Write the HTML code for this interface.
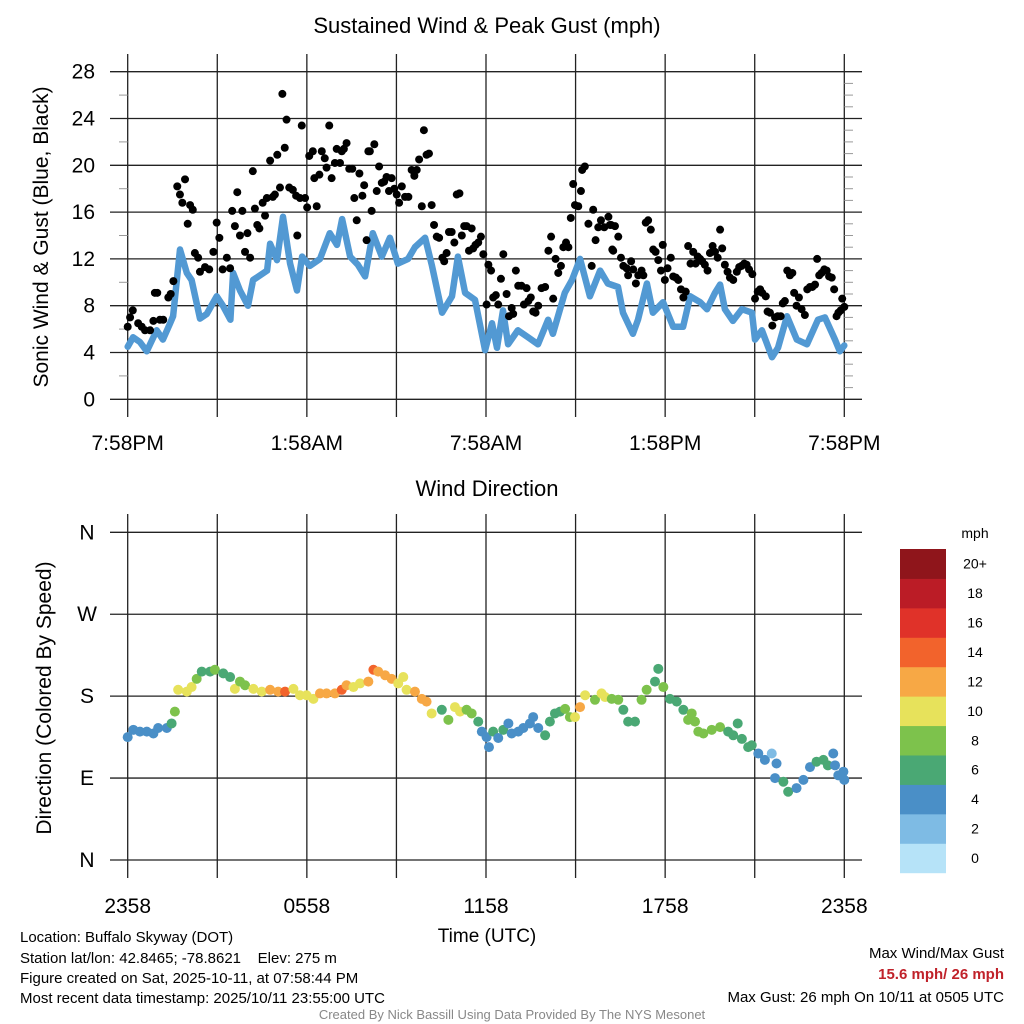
<!DOCTYPE html>
<html><head><meta charset="utf-8"><style>
html,body{margin:0;padding:0;background:#fff;}
svg{display:block;font-family:"Liberation Sans",Arial,sans-serif;}
</style></head><body>
<svg id="chart" width="1024" height="1024" viewBox="0 0 1024 1024" xmlns="http://www.w3.org/2000/svg">
<rect width="1024" height="1024" fill="#fff"/>
<g id="topPanel"></g>
<g id="botPanel"></g>
<g id="cbar"></g>
<text x="487" y="33" font-size="22" text-anchor="middle">Sustained Wind &amp; Peak Gust (mph)</text>
<text transform="translate(48,237) rotate(-90)" font-size="21" text-anchor="middle">Sonic Wind &amp; Gust (Blue, Black)</text>
<text x="487" y="496" font-size="22" text-anchor="middle">Wind Direction</text>
<text transform="translate(51,698) rotate(-90)" font-size="21" text-anchor="middle">Direction (Colored By Speed)</text>
<text x="487" y="942" font-size="19" text-anchor="middle">Time (UTC)</text>
<text x="975" y="538" font-size="14" text-anchor="middle">mph</text>
<g font-size="15">
<text x="20" y="942">Location: Buffalo Skyway (DOT)</text>
<text x="20" y="963">Station lat/lon: 42.8465; -78.8621&#160;&#160;&#160;&#160;Elev: 275 m</text>
<text x="20" y="983">Figure created on Sat, 2025-10-11, at 07:58:44 PM</text>
<text x="20" y="1003">Most recent data timestamp: 2025/10/11 23:55:00 UTC</text>
</g>
<text x="512" y="1019" font-size="13" fill="#888" text-anchor="middle">Created By Nick Bassill Using Data Provided By The NYS Mesonet</text>
<g font-size="15" text-anchor="end">
<text x="1004" y="958">Max Wind/Max Gust</text>
<text x="1004" y="979" fill="#c0222a" font-weight="bold">15.6 mph/ 26 mph</text>
<text x="1004" y="1002">Max Gust: 26 mph On 10/11 at 0505 UTC</text>
</g>
</svg>
<script>
// ---- data ----
const windHours=[0,0.18,0.41,0.64,0.97,1.18,1.42,1.52,1.75,1.98,2.14,2.42,2.65,2.98,3.19,3.44,3.53,3.76,4.03,4.20,4.67,4.77,5.00,5.20,5.44,5.67,5.84,6.10,6.44,6.77,7.01,7.18,7.45,7.71,7.95,8.21,8.51,8.78,9.05,9.39,9.62,9.96,10.19,10.53,10.86,11.06,11.30,11.63,11.97,12.20,12.37,12.57,12.74,13.07,13.41,13.74,14.08,14.24,14.64,14.88,15.15,15.48,15.82,16.08,16.42,16.59,16.92,17.09,17.39,17.59,17.93,18.27,18.60,18.84,19.17,19.40,19.67,19.84,20.00,20.27,20.57,20.91,21.01,21.24,21.58,21.78,22.08,22.41,22.75,23.12,23.35,23.69,23.85,24.0];
const windSpeed=[4.5,5.3,4.9,4.1,5.9,5.1,6.5,7.1,12.8,10.8,10.2,6.9,7.3,8.8,8.0,6.8,10.8,9.3,8.0,10.2,11.0,13.3,11.9,15.6,11.6,9.3,12.2,11.4,12.0,14.2,13.2,15.4,12.2,11.5,10.5,14.2,12.2,13.8,11.6,12.0,13.0,13.8,11.4,7.4,8.8,12.2,9.1,8.5,4.2,6.5,4.4,7.6,4.7,5.9,5.3,4.7,6.8,5.6,9.1,10.2,12.0,8.8,11.0,9.9,9.6,7.4,5.6,6.8,9.9,7.4,8.3,6.2,6.2,8.8,8.3,7.7,9.1,9.8,7.7,6.7,7.7,7.4,5.1,5.9,3.6,4.4,7.1,5.1,4.7,6.8,7.0,5.1,4.1,4.6];
const gustHours=[0.00,0.08,0.17,0.35,0.47,0.58,0.75,0.86,0.91,0.99,1.08,1.19,1.36,1.44,1.53,1.66,1.75,1.83,1.92,2.01,2.09,2.18,2.25,2.36,2.42,2.59,2.73,2.87,2.98,3.07,3.18,3.32,3.43,3.50,3.59,3.67,3.76,3.84,3.93,4.01,4.10,4.19,4.26,4.34,4.41,4.52,4.60,4.66,4.77,4.86,4.93,5.01,5.10,5.18,5.26,5.32,5.41,5.53,5.64,5.77,5.68,5.83,5.94,6.01,6.08,6.20,6.25,6.33,6.42,6.50,6.60,6.66,6.75,6.83,6.94,7.00,7.11,7.17,7.24,7.33,7.42,7.52,7.59,7.67,7.76,7.86,7.92,8.00,8.06,8.11,8.26,8.17,8.42,8.34,8.51,8.59,8.67,8.75,8.84,8.93,9.01,9.09,9.18,9.29,9.40,9.51,9.60,9.68,9.76,9.85,9.92,10.01,10.09,10.18,10.26,10.35,10.43,10.54,10.60,10.68,10.76,10.85,10.94,11.02,11.11,11.19,11.27,11.35,11.43,11.52,11.57,11.65,11.74,11.83,11.91,12.02,12.08,12.17,12.24,12.33,12.41,12.50,12.58,12.69,12.77,12.86,12.91,13.00,13.08,13.19,13.27,13.36,13.42,13.50,13.58,13.66,13.75,13.86,13.98,14.09,14.18,14.25,14.33,14.42,14.51,14.59,14.68,14.76,14.84,14.92,14.98,15.09,15.18,15.22,15.31,15.43,15.54,15.59,15.67,15.76,15.85,15.96,16.10,16.19,16.23,16.15,16.32,16.43,16.26,16.52,16.60,16.71,16.76,16.86,16.93,17.02,17.10,17.21,17.27,17.35,17.43,17.52,17.60,17.68,17.77,17.86,17.92,17.99,18.08,18.19,18.27,18.36,18.44,18.53,18.61,18.69,18.77,18.85,18.94,19.02,19.09,19.17,19.24,19.33,19.42,19.50,19.59,19.67,19.76,19.84,19.91,20.00,20.09,20.17,20.28,20.40,20.48,20.56,20.65,20.73,20.81,20.92,21.01,21.10,21.18,21.25,21.37,21.43,21.51,21.59,21.68,21.77,21.87,21.94,22.01,22.09,22.18,22.26,22.32,22.40,22.48,22.57,22.68,22.76,22.85,22.93,23.02,23.09,23.16,23.24,23.33,23.41,23.49,23.58,23.66,23.74,23.80,23.88,23.93,24.00];
const gustSpeed=[6.2,7.0,7.6,6.5,6.2,5.9,5.9,6.7,9.1,9.1,6.8,6.8,8.7,9.0,10.1,18.2,17.5,16.8,18.8,15.0,16.6,16.2,12.5,12.1,10.9,11.3,11.1,12.6,15.1,13.8,11.1,12.1,11.2,16.1,14.8,17.7,14.0,16.1,12.6,14.2,12.1,19.5,16.3,14.9,14.6,16.8,15.7,17.2,20.4,17.3,17.5,20.9,18.1,26.1,21.5,23.9,18.1,17.9,17.4,17.2,14.0,23.4,17.2,16.4,20.8,21.2,18.9,16.5,19.2,21.2,20.6,19.8,23.4,18.9,20.2,21.4,20.2,21.2,21.4,21.9,19.7,19.7,17.2,15.3,19.3,17.4,18.3,13.6,21.2,21.2,21.8,16.1,19.9,17.8,18.5,18.6,19.0,17.8,18.9,18.0,17.5,16.8,18.2,17.3,17.3,19.6,19.1,19.6,20.5,16.5,23.0,20.9,21.0,16.6,14.9,13.9,13.8,12.1,11.8,12.5,14.3,14.3,13.4,17.5,17.6,14.0,14.8,14.8,12.7,14.6,12.9,13.2,13.4,13.9,12.4,8.1,11.5,11.0,8.7,8.9,8.1,10.3,12.4,9.0,7.1,7.8,7.3,11.0,9.7,9.7,8.1,9.5,8.4,8.7,7.5,7.4,8.0,9.5,9.6,12.7,13.9,8.6,12.0,10.8,11.4,13.0,13.4,13.0,15.5,18.4,16.6,16.5,17.8,19.6,19.9,15.0,11.4,16.2,13.6,14.7,15.3,14.7,15.6,14.9,12.8,14.9,14.8,13.9,12.7,12.1,11.4,11.2,10.6,11.8,11.1,9.9,10.6,11.0,10.6,15.1,15.3,14.5,12.8,12.6,11.9,11.0,13.2,10.2,11.2,12.1,10.5,10.4,10.2,9.4,8.7,9.2,13.1,11.6,12.6,11.6,12.2,12.0,11.8,11.5,11.0,12.5,13.1,12.6,12.1,14.5,12.9,11.5,10.9,10.4,10.2,10.9,11.3,11.4,11.6,11.5,11.1,10.7,8.6,9.2,9.4,9.1,8.8,7.5,7.4,6.3,7.0,7.1,7.1,8.2,8.4,11.0,10.6,10.8,9.1,8.0,8.7,7.7,7.2,9.4,9.6,9.6,9.8,12.0,10.6,10.8,11.1,11.0,10.5,10.4,9.4,7.1,7.4,7.6,8.6,7.9];
const dirHours=[0.00,0.19,0.41,0.64,0.86,1.02,1.31,1.47,1.58,1.69,1.98,2.14,2.31,2.48,2.76,2.92,3.20,3.43,3.59,3.76,3.93,4.21,4.49,4.77,5.04,5.27,5.55,5.77,5.99,6.22,6.44,6.66,6.94,7.17,7.33,7.56,7.78,8.06,8.23,8.39,8.62,8.84,9.06,9.23,9.34,9.62,9.85,10.01,10.18,10.52,10.74,10.96,11.13,11.35,11.52,11.74,11.86,12.02,12.10,12.24,12.41,12.58,12.75,12.86,13.08,13.25,13.47,13.58,13.75,13.98,14.14,14.31,14.48,14.65,14.81,14.98,15.15,15.32,15.65,15.87,15.99,16.21,16.43,16.60,16.76,16.99,17.21,17.38,17.66,17.77,17.94,18.16,18.39,18.61,18.77,18.89,19.00,19.11,19.28,19.56,19.84,20.11,20.28,20.43,20.57,20.78,20.90,21.12,21.34,21.57,21.68,21.73,21.96,22.12,22.40,22.63,22.85,23.07,23.30,23.45,23.63,23.69,23.80,23.97,24.00];
const dirDeg=[135,143,141,141,139,145,145,150,163,187,185,190,199,207,207,209,205,201,188,196,192,188,185,187,185,185,188,181,181,177,183,183,183,187,192,190,194,196,209,207,203,199,194,201,187,185,177,174,161,165,154,168,163,165,161,152,141,135,124,141,134,143,150,139,141,145,150,157,145,137,152,161,163,166,157,157,168,181,176,183,179,177,176,165,152,152,176,187,196,210,190,177,174,165,154,161,152,141,139,143,146,141,137,150,133,124,126,117,110,117,90,106,86,75,79,88,102,108,110,104,117,104,93,97,88];
const yTicksTop=[0,4,8,12,16,20,24,28];
const xTickHoursTop=[0,6,12,18,24];
const xTickLabelsTop=["7:58PM","1:58AM","7:58AM","1:58PM","7:58PM"];
const dirTickDeg=[0,90,180,270,360];
const dirTickLabels=["N","E","S","W","N"];
const xTickLabelsBot=["2358","0558","1158","1758","2358"];
const binEdges=[0,2,4,6,8,10,12,14,16,18,20];
const binLabels=["0","2","4","6","8","10","12","14","16","18","20+"];
const binColors=["#b6e3f8","#7ebbe4","#4a8fc7","#4aa874","#7dc24c","#e7e25b","#f7a845","#f2632c","#e03229","#bb1c26","#8f151b"];

// ---- helpers ----
const NS="http://www.w3.org/2000/svg";
const X0=127.7,X1=844.3;
const xS=h=>X0+(h/24)*(X1-X0);
const yTop=v=>399.3-v*(399.3-71.7)/28;
const yDir=d=>860-d*(860-532.3)/360;
function mk(p,tag,at){const e=document.createElementNS(NS,tag);for(const k in at)e.setAttribute(k,at[k]);p.appendChild(e);return e;}
function interpWind(h){for(let i=1;i<windHours.length;i++){if(h<=windHours[i]){const t=(h-windHours[i-1])/(windHours[i]-windHours[i-1]||1);return windSpeed[i-1]+t*(windSpeed[i]-windSpeed[i-1]);}}return windSpeed[windSpeed.length-1];}
function colorFor(v){let idx=0;for(let i=0;i<binEdges.length;i++){if(v>=binEdges[i])idx=i;}return binColors[idx];}

// ---- top panel ----
const topG=document.getElementById('topPanel');
for(let k=0;k<=8;k++){const x=xS(k*3);
 const l=mk(topG,'line',{x1:x,x2:x,y1:54,y2:417,stroke:'#222','stroke-width':1.3});
 
 }
yTicksTop.forEach(v=>{const y=yTop(v);
 const l=mk(topG,'line',{x1:110,x2:862,y1:y,y2:y,stroke:'#222','stroke-width':1.3});
 
 
 const t=mk(topG,'text',{x:95,y:y+7,'font-size':21,'text-anchor':'end'});t.textContent=v;
 
 });
for(let v=2;v<28;v+=4){const y=yTop(v);mk(topG,'line',{x1:119,x2:127.7,y1:y,y2:y,stroke:'#999','stroke-width':1});}
for(let v=1;v<29;v++){if(v%4===0)continue;const y=yTop(v);mk(topG,'line',{x1:X1,x2:853,y1:y,y2:y,stroke:'#999','stroke-width':1});}
xTickHoursTop.forEach((h,i)=>{const t=mk(topG,'text',{x:xS(h),y:450,'font-size':21,'text-anchor':'middle'});t.textContent=xTickLabelsTop[i];
 
 });
let pd='';windHours.forEach((h,i)=>{pd+=(i?'L':'M')+xS(h).toFixed(1)+' '+yTop(windSpeed[i]).toFixed(1);});
const wl=mk(topG,'path',{d:pd,fill:'none',stroke:'#5299d3','stroke-width':6.5,'stroke-linejoin':'round','stroke-linecap':'round'});


gustHours.forEach((h,i)=>{if(gustSpeed[i]===undefined)return;const c=mk(topG,'circle',{cx:xS(h),cy:yTop(gustSpeed[i]),r:4,fill:'#000'});
 
 });

// ---- bottom panel ----
const botG=document.getElementById('botPanel');
for(let k=0;k<=8;k++){const x=xS(k*3);mk(botG,'line',{x1:x,x2:x,y1:514,y2:878,stroke:'#222','stroke-width':1.3});}
dirTickDeg.forEach((dg,i)=>{const y=yDir(dg);
 mk(botG,'line',{x1:110,x2:862,y1:y,y2:y,stroke:'#222','stroke-width':1.3});
 const t=mk(botG,'text',{x:87,y:y+7,'font-size':21,'text-anchor':'middle'});t.textContent=dirTickLabels[i];
 
 });
xTickHoursTop.forEach((h,i)=>{const t=mk(botG,'text',{x:xS(h),y:913,'font-size':21,'text-anchor':'middle'});t.textContent=xTickLabelsBot[i];
 
 });
dirHours.forEach((h,i)=>{if(dirDeg[i]===undefined)return;const c=mk(botG,'circle',{cx:xS(h),cy:yDir(dirDeg[i]),r:5,fill:colorFor(interpWind(h))});
 
 });

// ---- colorbar ----
const cb=document.getElementById('cbar');
const cbTop=549,cbH=(872.7-549)/binColors.length;
binColors.forEach((col,i)=>{const j=binColors.length-1-i;const y=cbTop+j*cbH;
 const r=mk(cb,'rect',{x:900,y:y,width:46,height:cbH+0.5,fill:col});
 
 
 const t=mk(cb,'text',{x:975,y:y+cbH/2+5,'font-size':14,'text-anchor':'middle'});t.textContent=binLabels[i];
 
 });
</script>
</body></html>
